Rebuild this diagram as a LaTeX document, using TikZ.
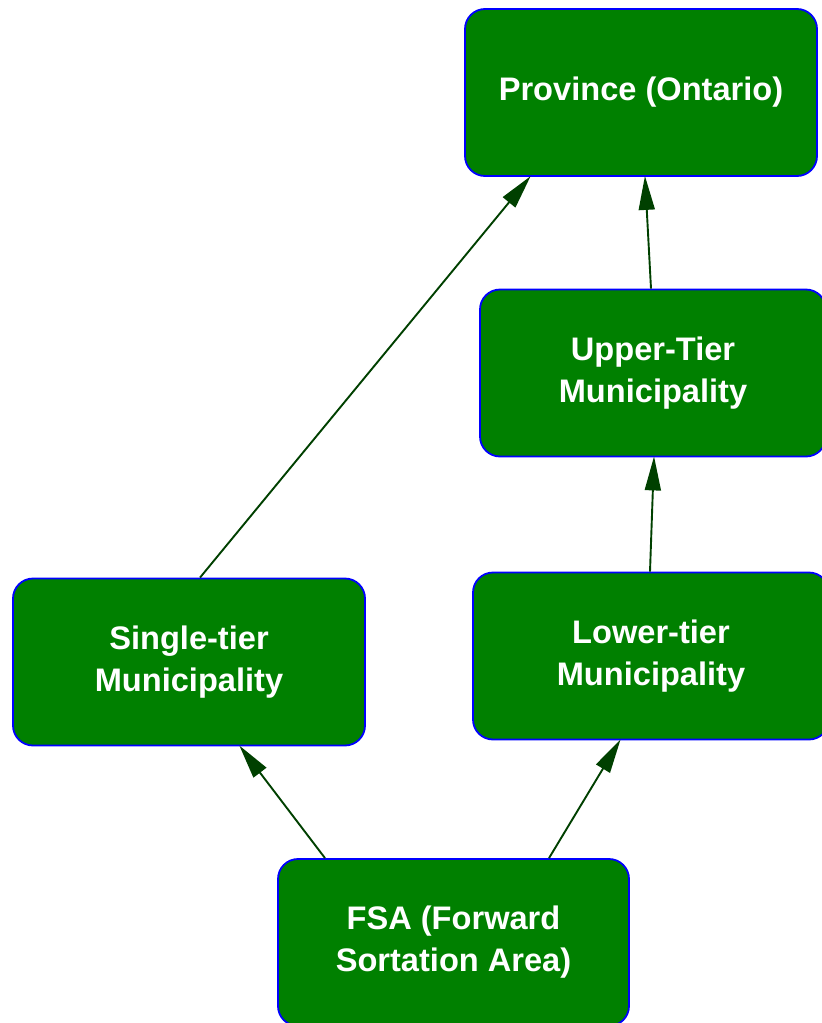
\documentclass[tikz,border=0pt]{standalone}
\usepackage{fontspec}
\setmainfont{Liberation Sans}
\usetikzlibrary{arrows.meta}
\definecolor{boxgreen}{RGB}{0,128,0}
\definecolor{edgegreen}{RGB}{0,64,0}
\begin{document}
\begin{tikzpicture}[x=1pt,y=-1pt,
  level/.style={draw=blue, line width=1.8pt, fill=boxgreen, rounded corners=20pt,
    text=white, font=\bfseries\fontsize{32.6}{42}\selectfont, align=center,
    minimum width=350pt, minimum height=167pt, inner sep=0pt},
  link/.style={draw=edgegreen, line width=1.9pt, shorten >=-1pt,
    -{Triangle[length=34pt,width=16pt]}, color=edgegreen}]
\useasboundingbox (0,0) rectangle (822,1023);

\node[level, minimum width=352pt] (prov) at (641,92.5) {Province (Ontario)};
\node[level, minimum width=346pt] (upper) at (653,373) {Upper-Tier\\Municipality};
\node[level, minimum width=352pt] (single) at (189,662) {Single-tier\\Municipality};
\node[level, minimum width=356pt] (lower) at (651,656) {Lower-tier\\Municipality};
\node[level, minimum width=351pt] (fsa) at (453.5,942.5) {FSA (Forward\\Sortation Area)};

\draw[link] ([xshift=11pt]single.north) -- ([xshift=-111pt]prov.south);
\draw[link] ([xshift=-2pt]upper.north) -- ([xshift=4pt]prov.south);
\draw[link] ([xshift=-1pt]lower.north) -- ([xshift=1pt]upper.south);
\draw[link] ([xshift=-128.5pt]fsa.north) -- ([xshift=51pt]single.south);
\draw[link] ([xshift=95.5pt]fsa.north) -- ([xshift=-31pt]lower.south);
\end{tikzpicture}
\end{document}
